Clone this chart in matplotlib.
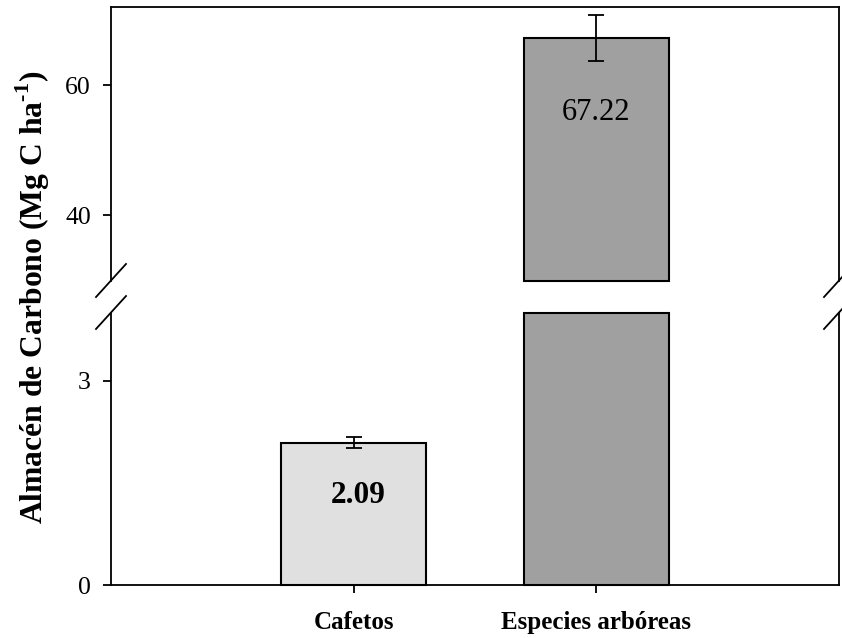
import matplotlib
matplotlib.use("Agg")
import matplotlib.pyplot as plt

plt.rcParams['font.family'] = ['Liberation Serif', 'DejaVu Serif']
plt.rcParams['mathtext.fontset'] = 'custom'
plt.rcParams['mathtext.rm'] = 'Liberation Serif'
plt.rcParams['mathtext.bf'] = 'Liberation Serif:bold'

# datos
categorias = ['Cafetos', 'Especies arbóreas']
almacen = [2.09, 67.22]
error = [0.08, 3.5]
etiquetas = ['2.09', '67.22']
colores = ['#e0e0e0', '#a0a0a0']
x = [1, 2]

lim_sup = (30, 72)
lim_inf = (0, 4)
ticks_sup = [40, 60]
ticks_inf = [0, 3]

fig = plt.figure(figsize=(8.42, 6.38), dpi=100)
W, H = 842, 638
ax_s = fig.add_axes([111/W, (H-280.5)/H, 728/W, 273.5/H])
ax_i = fig.add_axes([111/W, (H-585)/H, 728/W, 272.5/H])

lw = 1.3
for ax in (ax_s, ax_i):
    ax.set_xlim(0, 3)
    for s in ax.spines.values():
        s.set_linewidth(lw)
    ax.tick_params(axis='y', direction='out', length=5.5, width=lw, labelsize=18.5, pad=9)

ax_s.set_ylim(*lim_sup)
ax_i.set_ylim(*lim_inf)
ax_s.set_yticks(ticks_sup)
ax_i.set_yticks(ticks_inf)
ax_s.spines['bottom'].set_visible(False)
ax_i.spines['top'].set_visible(False)
ax_s.set_xticks([])

# barras en el panel inferior (cortadas en el limite superior)
for xi, v, c in zip(x, almacen, colores):
    ax_i.bar(xi, min(v, lim_inf[1]), width=0.6, color=c, edgecolor='black',
             linewidth=1.5, clip_on=False, zorder=2)
    if v > lim_sup[0]:
        ax_s.bar(xi, v - lim_sup[0], bottom=lim_sup[0], width=0.6, color=c,
                 edgecolor='black', linewidth=1.5, clip_on=False, zorder=2)

# barras de error
for xi, v, e in zip(x, almacen, error):
    ax = ax_s if v > lim_inf[1] else ax_i
    ax.errorbar(xi, v, yerr=e, fmt='none', ecolor='black', elinewidth=1.3,
                capsize=5.5, capthick=1.3, zorder=3)

# etiquetas de valores
ax_i.text(x[0] + 0.02, 1.32, etiquetas[0], ha='center', va='center', fontsize=22.5, fontweight='bold')
ax_s.text(x[1], 55.75, etiquetas[1], ha='center', va='center', fontsize=22)

ax_i.set_xticks(x)
ax_i.set_xticklabels(categorias, fontsize=18, fontweight='bold')
ax_i.tick_params(axis='x', direction='out', length=6, width=lw, pad=13)

# marcas del corte
dx, dy = 15/728, 16.5/273
kw = dict(color='black', linewidth=1.3, clip_on=False)
for xx in (0, 1):
    ax_s.plot([xx-dx, xx+dx], [-dy, dy], transform=ax_s.transAxes, **kw)
    ax_i.plot([xx-dx, xx+dx], [1-dy, 1+dy], transform=ax_i.transAxes, **kw)

fig.text(33/W, (H-297)/H, 'Almacén de Carbono (Mg C ha$^{\\mathbf{\u20101}}$)',
         rotation=90, ha='center', va='center', fontsize=22.8, fontweight='bold')

fig.savefig('out.png', dpi=100)
